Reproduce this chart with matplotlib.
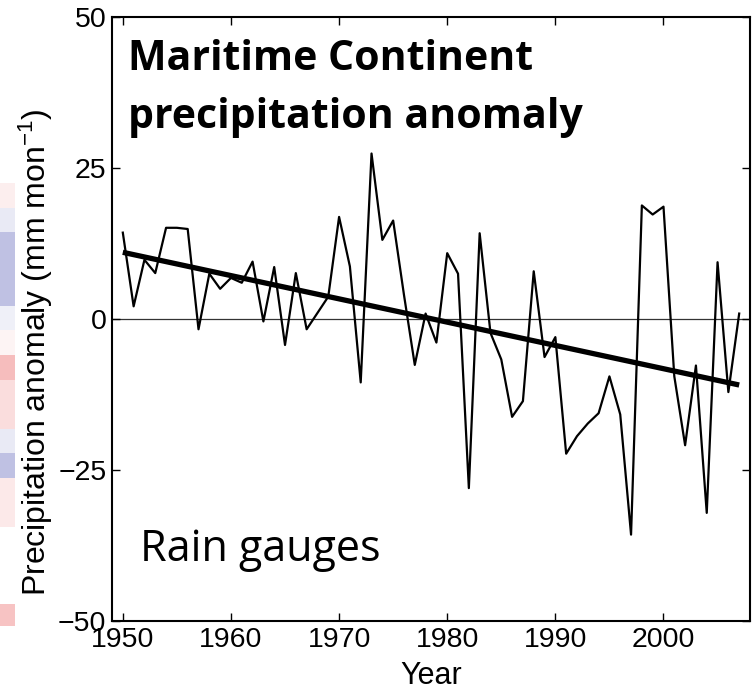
import numpy as np
import matplotlib
matplotlib.use("Agg")
import matplotlib.pyplot as plt
from matplotlib.colors import LinearSegmentedColormap

# Rain-gauge precipitation anomaly over the Maritime Continent (mm/month)
years = list(range(1950, 2008))
anomaly = [
    14.3, 2.1, 9.8, 7.6, 15.1, 15.1, 14.9, -1.7, 7.5, 5.0,
    6.8, 6.0, 9.5, -0.4, 8.6, -4.3, 7.6, -1.7, 1.0, 3.7,
    16.9, 8.7, -10.5, 27.4, 13.1, 16.3, 4.0, -7.6, 0.9, -3.9,
    10.9, 7.5, -28.0, 14.2, -2.3, -6.7, -16.2, -13.6, 7.9, -6.3,
    -3.0, -22.3, -19.4, -17.3, -15.6, -9.5, -15.8, -35.7, 18.8, 17.3,
    18.6, -9.5, -20.9, -7.7, -32.1, 9.4, -12.1, 0.9,
]
yticks = [-50, -25, 0, 25, 50]
xticks = [1950, 1960, 1970, 1980, 1990, 2000]

# colour cells of the neighbouring (cropped) panel at the far left
strip_vals = [0.15, -0.2, -0.6, -0.6, -0.6, -0.15, 0.1, 0.6, 0.3, 0.3, -0.2, -0.6, 0.2, 0.2]

plt.rcParams['font.family'] = ['Liberation Sans', 'DejaVu Sans']
plt.rcParams['mathtext.default'] = 'regular'

fig = plt.figure(figsize=(7.52, 6.94), dpi=100)

# cropped neighbour panel
cmap = LinearSegmentedColormap.from_list('rb', ['#7f84c8', 'white', '#ee7d7d'])
sax = fig.add_axes([0, 1 - 527 / 694, 15 / 752, (527 - 183) / 694])
sax.imshow(np.array(strip_vals)[:, None], cmap=cmap, vmin=-1.2, vmax=1.2,
           aspect='auto', interpolation='nearest')
sax.set_axis_off()
bax = fig.add_axes([0, 1 - 626 / 694, 15 / 752, 22 / 694])
bax.imshow([[0.55]], cmap=cmap, vmin=-1.2, vmax=1.2, aspect='auto')
bax.set_axis_off()

ax = fig.add_axes([112 / 752, 1 - 621 / 694, 638 / 752, 604 / 694])

ax.axhline(0, color='#333333', lw=0.9, zorder=1)
ax.plot(years, anomaly, color='black', lw=1.6, zorder=2)

# linear trend
coef = np.polyfit(years, anomaly, 1)
yr = np.array([years[0], years[-1]])
ax.plot(yr, np.polyval(coef, yr), color='black', lw=3.8, solid_capstyle='butt', zorder=3)

ax.set_xlim(1949, 2008)
ax.set_ylim(-50, 50)
ax.set_xticks(xticks)
ax.set_yticks(yticks)
ax.tick_params(direction='in', length=6, width=1, top=True, right=True,
               labelsize=20.5)
ax.tick_params(axis='x', pad=4)
ax.tick_params(axis='y', pad=4)
for s in ax.spines.values():
    s.set_linewidth(1.5)

ax.set_xlabel('Year', fontsize=22, labelpad=6)
ax.set_ylabel('Precipitation anomaly (mm mon$^{-1}$)', fontsize=23, labelpad=2)
ax.yaxis.set_label_coords(-0.089, 0.445)

ax.text(0.025, 0.912, 'Maritime Continent', transform=ax.transAxes,
        fontsize=29.5, fontweight='bold', family='Open Sans', va='baseline')
ax.text(0.025, 0.816, 'precipitation anomaly', transform=ax.transAxes,
        fontsize=29.5, fontweight='bold', family='Open Sans', va='baseline')
ax.text(0.044, 0.099, 'Rain gauges', transform=ax.transAxes,
        fontsize=31, family='Open Sans', va='baseline')

fig.savefig('out.png', dpi=100)
